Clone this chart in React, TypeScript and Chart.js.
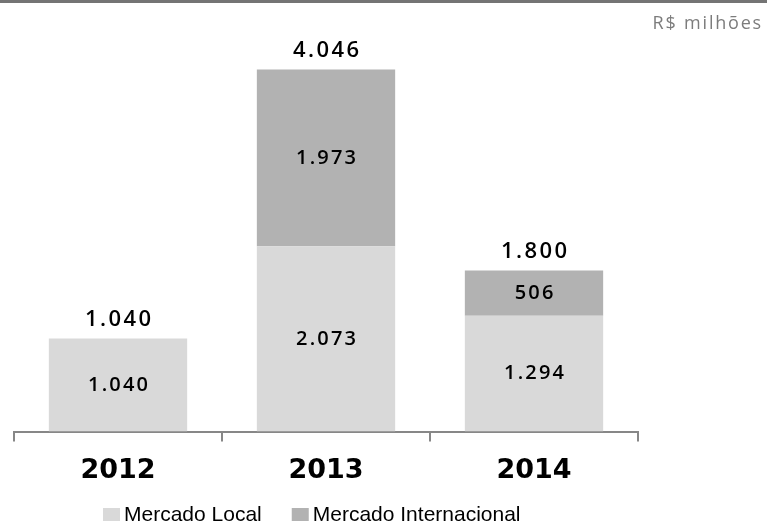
import React, { useEffect, useRef } from 'react';
import { Chart, registerables } from 'chart.js';

Chart.register(...registerables);

const categories = ['2012', '2013', '2014'];
const mercadoLocal = [1040, 2073, 1294];
const mercadoInternacional = [0, 1973, 506];
const seriesNames = ['Mercado Local', 'Mercado Internacional'];
const seriesColors = ['#d9d9d9', '#b2b2b2'];
const unitLabel = 'R$ milhões';
const yMax = 4500;

const fmt = (n: number) => String(n).replace(/\B(?=(\d{3})+(?!\d))/g, '.');

export default function App() {
  const ref = useRef<HTMLCanvasElement>(null);

  useEffect(() => {
    if (!ref.current) return;
    const totals = categories.map((_, i) => mercadoLocal[i] + mercadoInternacional[i]);

    const decor = {
      id: 'decor',
      beforeDraw(chart: any) {
        const ctx = chart.ctx;
        ctx.save();
        ctx.fillStyle = '#ffffff';
        ctx.fillRect(0, 0, chart.width, chart.height);
        ctx.strokeStyle = '#747474';
        ctx.lineWidth = 3;
        ctx.beginPath();
        ctx.moveTo(0, 1.5);
        ctx.lineTo(chart.width, 1.5);
        ctx.stroke();
        ctx.fillStyle = '#7c7c7c';
        ctx.font = '500 18px "Open Sans"';
        ctx.letterSpacing = '1.8px';
        ctx.textAlign = 'right';
        ctx.textBaseline = 'middle';
        ctx.fillText(unitLabel, chart.width - 4, 24);
        ctx.restore();
      },
      afterDatasetsDraw(chart: any) {
        const ctx = chart.ctx;
        ctx.save();
        ctx.fillStyle = '#000000';
        ctx.textAlign = 'center';
        ctx.textBaseline = 'middle';
        chart.data.datasets.forEach((ds: any, di: number) => {
          const meta = chart.getDatasetMeta(di);
          meta.data.forEach((el: any, i: number) => {
            const v = ds.data[i];
            if (!v) return;
            const p = el.getCenterPoint();
            ctx.font = '600 20px "Open Sans"';
            ctx.letterSpacing = '2.2px';
            ctx.fillText(fmt(v), p.x + 1.1, p.y);
          });
        });
        const ys = chart.scales.y;
        const meta0 = chart.getDatasetMeta(0);
        totals.forEach((t, i) => {
          const x = meta0.data[i].x;
          ctx.font = '600 22px "Open Sans"';
          ctx.letterSpacing = '2.4px';
          ctx.fillText(fmt(t), x + 1.2, ys.getPixelForValue(t) - 19);
        });
        ctx.restore();
      },
      afterDraw(chart: any) {
        const ctx = chart.ctx;
        ctx.save();
        ctx.font = '21px "Liberation Sans", sans-serif';
        ctx.textBaseline = 'middle';
        ctx.textAlign = 'left';
        let x = 103;
        const y = 515;
        chart.data.datasets.forEach((ds: any) => {
          ctx.fillStyle = ds.backgroundColor;
          ctx.fillRect(x, y - 7, 17, 13);
          x += 21;
          ctx.fillStyle = '#000000';
          ctx.fillText(ds.label, x, y);
          x += ctx.measureText(ds.label).width + 30;
        });
        ctx.restore();
      },
    };

    const chart = new Chart(ref.current, {
      type: 'bar',
      data: {
        labels: categories,
        datasets: [
          { label: seriesNames[0], data: mercadoLocal, backgroundColor: seriesColors[0], borderWidth: 0 },
          { label: seriesNames[1], data: mercadoInternacional, backgroundColor: seriesColors[1], borderWidth: 0 },
        ],
      },
      options: {
        responsive: false,
        animation: false,
        layout: { padding: { left: 14, right: 129, top: 29, bottom: 24 } },
        plugins: {
          legend: { display: false },
          tooltip: { enabled: false },
          title: { display: false },
        },
        datasets: { bar: { categoryPercentage: 1, barPercentage: 0.665 } },
        scales: {
          x: {
            stacked: true,
            grid: {
              display: true,
              offset: true,
              drawOnChartArea: false,
              drawTicks: true,
              tickLength: 10,
              color: '#878787',
              lineWidth: 2,
            },
            border: { display: true, color: '#878787', width: 2 },
            ticks: {
              color: '#000000',
              padding: 13,
              font: { family: '"DejaVu Sans", sans-serif', size: 27, weight: 'bold' },
            },
          },
          y: {
            stacked: true,
            display: false,
            min: 0,
            max: yMax,
          },
        },
      },
      plugins: [decor],
    } as any);
    return () => chart.destroy();
  }, []);

  return (
    <div style={{ position: 'absolute', left: 0, top: 0, width: 767, height: 524 }}>
      <canvas ref={ref} width={767} height={524} />
    </div>
  );
}
